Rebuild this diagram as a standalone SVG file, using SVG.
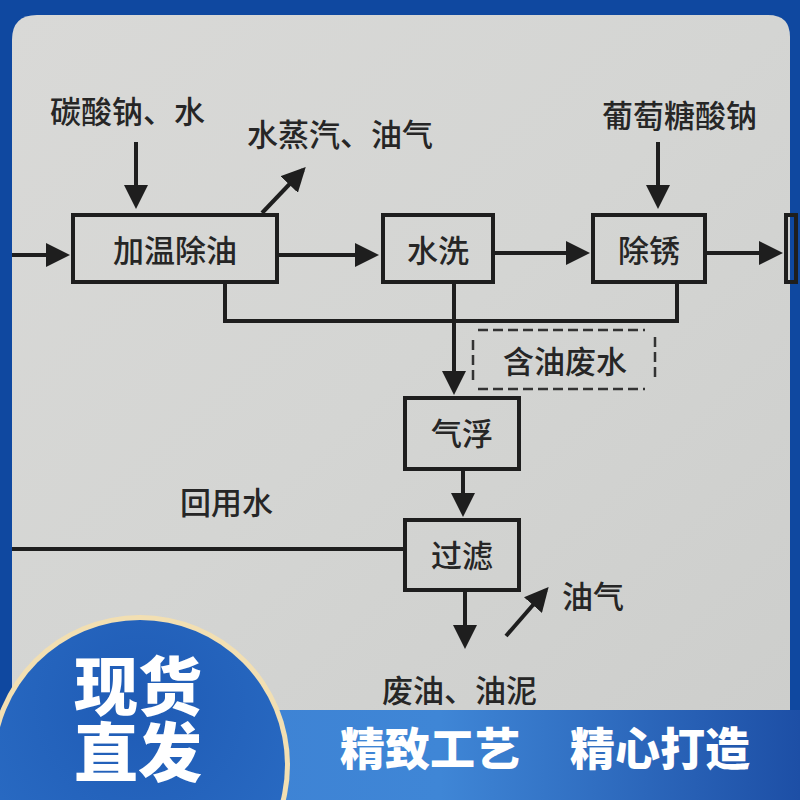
<svg xmlns="http://www.w3.org/2000/svg" width="800" height="800" viewBox="0 0 800 800">
<defs>
<style>
.t{font-family:"Noto Sans CJK SC","Noto Sans",sans-serif;font-size:31px;fill:#262626;font-weight:500}
.bx{fill:none;stroke:#1e1e1e;stroke-width:4}
.ln{fill:none;stroke:#1e1e1e;stroke-width:4}
.ds{fill:none;stroke:#333;stroke-width:2.5;stroke-dasharray:10 5}
.w{font-family:"Noto Sans CJK SC","Noto Sans",sans-serif;fill:#fff;font-weight:900}
</style>
<marker id="ah" markerWidth="6" markerHeight="6" refX="5" refY="3" orient="auto" markerUnits="strokeWidth">
<path d="M0,0 L6,3 L0,6 z" fill="#1e1e1e"/>
</marker>
<linearGradient id="wall" x1="0" y1="0" x2="1" y2="1">
<stop offset="0" stop-color="#d9d9d7"/>
<stop offset="0.5" stop-color="#d4d5d3"/>
<stop offset="1" stop-color="#cdcecc"/>
</linearGradient>
<linearGradient id="band" x1="0" y1="0" x2="1" y2="0">
<stop offset="0" stop-color="#3d7fd2"/>
<stop offset="0.55" stop-color="#3f86d6"/>
<stop offset="1" stop-color="#1d4fa6"/>
</linearGradient>
<radialGradient id="circ" cx="0.5" cy="0.3" r="0.7">
<stop offset="0" stop-color="#1f5bb5"/>
<stop offset="1" stop-color="#2a6cc4"/>
</radialGradient>
</defs>
<rect x="0" y="0" width="800" height="800" fill="#0f48a0"/>
<path d="M12,40 Q12,15 37,15 L768,15 Q790,15 790,37 L790,720 L12,720 Z" fill="url(#wall)"/>
<g id="connectors">
<line class="ln" x1="136" y1="142" x2="136" y2="205" marker-end="url(#ah)"/>
<line class="ln" x1="262" y1="213" x2="303" y2="170" marker-end="url(#ah)"/>
<line class="ln" x1="12" y1="255" x2="66" y2="255" marker-end="url(#ah)"/>
<line class="ln" x1="277" y1="255" x2="375" y2="255" marker-end="url(#ah)"/>
<line class="ln" x1="493" y1="253" x2="586" y2="253" marker-end="url(#ah)"/>
<line class="ln" x1="705" y1="253" x2="779" y2="253" marker-end="url(#ah)"/>
<line class="ln" x1="658" y1="142" x2="658" y2="205" marker-end="url(#ah)"/>
<polyline class="ln" points="225,282 225,321 677,321 677,282"/>
<line class="ln" x1="454" y1="282" x2="454" y2="391" marker-end="url(#ah)"/>
<line class="ln" x1="463" y1="469" x2="463" y2="513" marker-end="url(#ah)"/>
<line class="ln" x1="12" y1="549" x2="405" y2="549"/>
<line class="ln" x1="465" y1="590" x2="465" y2="645" marker-end="url(#ah)"/>
<line class="ln" x1="506" y1="636" x2="546" y2="590" marker-end="url(#ah)"/>
<rect x="786" y="215" width="10" height="67" class="bx"/>
</g>
<g id="n1"><rect class="bx" x="73" y="215" width="204" height="67"/><text class="t" x="175" y="262" text-anchor="middle">加温除油</text></g>
<g id="n2"><rect class="bx" x="383" y="215" width="110" height="67"/><text class="t" x="438" y="262" text-anchor="middle">水洗</text></g>
<g id="n3"><rect class="bx" x="593" y="215" width="112" height="67"/><text class="t" x="649" y="262" text-anchor="middle">除锈</text></g>
<g id="n4"><rect class="bx" x="405" y="398" width="114" height="71"/><text class="t" x="462" y="445" text-anchor="middle">气浮</text></g>
<g id="n5"><rect class="bx" x="405" y="520" width="114" height="70"/><text class="t" x="462" y="567" text-anchor="middle">过滤</text></g>
<g id="n6"><path class="ds" d="M478,330 H645 M478,389 H645 M473,340 V380 M655,337 V382"/><text class="t" x="565" y="373" text-anchor="middle">含油废水</text></g>
<g id="labels">
<text class="t" x="50" y="123">碳酸钠、水</text>
<text class="t" x="247" y="146">水蒸汽、油气</text>
<text class="t" x="602" y="127">葡萄糖酸钠</text>
<text class="t" x="180" y="514">回用水</text>
<text class="t" x="562" y="608">油气</text>
<text class="t" x="382" y="702">废油、油泥</text>
</g>
<g id="banner">
<rect x="0" y="710" width="800" height="90" fill="url(#band)"/>
<circle cx="140" cy="765" r="150" fill="#f2dfb2"/>
<circle cx="140" cy="765" r="145" fill="url(#circ)"/>
<text class="w" font-size="64" text-anchor="middle"><tspan x="138" y="710">现货</tspan><tspan x="138" y="776">直发</tspan></text>
<text class="w" x="340" y="766" font-size="45">精致工艺</text>
<text class="w" x="570" y="766" font-size="45">精心打造</text>
</g>
</svg>
